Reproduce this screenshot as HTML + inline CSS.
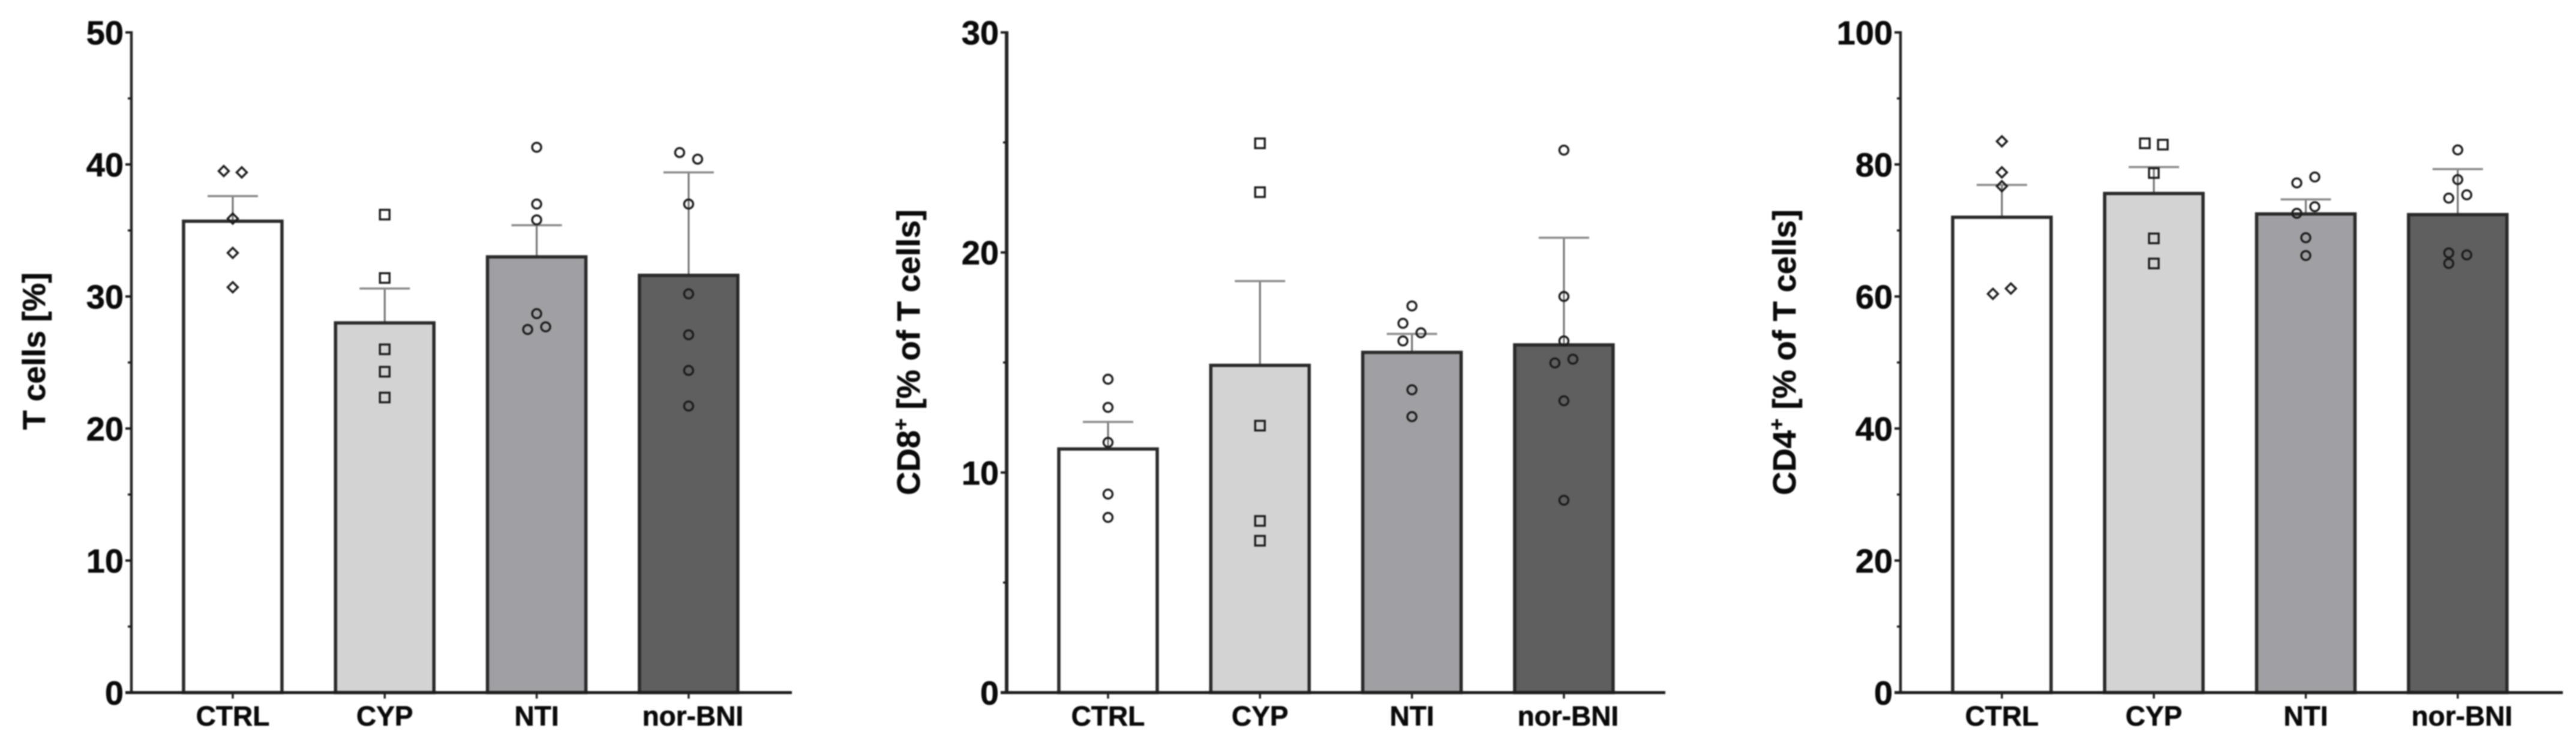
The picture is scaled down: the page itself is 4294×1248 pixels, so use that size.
<!DOCTYPE html>
<html lang="en">
<head>
<meta charset="utf-8">
<title>T cell bar charts</title>
<style>
  html, body { margin: 0; padding: 0; background: #fff; }
  body { width: 4294px; height: 1248px; overflow: hidden; }
  svg { display: block; filter: blur(1px); }
  text { font-family: "Liberation Sans", Arial, sans-serif; font-weight: bold; fill: #0a0a0a; stroke: #0a0a0a; stroke-width: 0.6px; }
</style>
</head>
<body>
<svg id="figure" xmlns="http://www.w3.org/2000/svg" width="4294" height="1248" viewBox="0 0 4294 1248">
  <rect x="0" y="0" width="4294" height="1248" fill="#ffffff"/>
  <g id="panel-t">
    <text transform="translate(75,585) rotate(-90)" text-anchor="middle" font-size="53">T cells [%]</text>
  </g>
  <g id="panel-cd8">
    <text transform="translate(1533,587) rotate(-90)" text-anchor="middle" font-size="54">CD8<tspan font-size="34" dy="-20">+</tspan><tspan dy="20"> [% of T cells]</tspan></text>
  </g>
  <g id="panel-cd4">
    <text transform="translate(2993,587) rotate(-90)" text-anchor="middle" font-size="54">CD4<tspan font-size="34" dy="-20">+</tspan><tspan dy="20"> [% of T cells]</tspan></text>
  </g>
</svg>
<script>
const categories = ['CTRL', 'CYP', 'NTI', 'nor-BNI'];

const tCellTicks = [0, 10, 20, 30, 40, 50];
const tCellMeans = [35.7, 28.0, 33.0, 31.6];
const tCellErrorTops = [37.6, 30.6, 35.4, 39.4];
const tCellPoints = [
  [39.5, 39.4, 35.9, 33.3, 30.7],
  [36.2, 31.4, 26.0, 24.3, 22.35],
  [41.3, 37.0, 35.8, 28.7, 27.7, 27.5],
  [40.9, 40.4, 37.0, 30.2, 27.1, 24.4, 21.7]
];
const tCellJitter = [
  [-1, 1, 0, 0, 0],
  [0, 0, 0, 0, 0],
  [0, 0, 0, 0, 1, -1],
  [-1, 1, 0, 0, 0, 0, 0]
];
const tCellMarkers = ['diamond', 'square', 'circle', 'circle'];

const cd8Ticks = [0, 10, 20, 30];
const cd8Means = [11.07, 14.87, 15.46, 15.8];
const cd8ErrorTops = [12.3, 18.7, 16.3, 20.67];
const cd8Points = [
  [14.24, 12.96, 11.37, 9.02, 7.96],
  [24.96, 22.74, 12.13, 7.8, 6.9],
  [17.57, 16.78, 16.35, 15.98, 13.76, 12.54],
  [24.65, 18.0, 15.98, 15.15, 14.98, 13.26, 8.74]
];
const cd8Jitter = [
  [0, 0, 0, 0, 0],
  [0, 0, 0, 0, 0],
  [0, -1, 1, -1, 0, 0],
  [0, 0, 0, 1, -1, 0, 0]
];
const cd8Markers = ['circle', 'square', 'circle', 'circle'];

const cd4Ticks = [0, 20, 40, 60, 80, 100];
const cd4Means = [72.0, 75.6, 72.5, 72.4];
const cd4ErrorTops = [76.9, 79.6, 74.7, 79.3];
const cd4Points = [
  [83.5, 78.8, 76.7, 61.2, 60.4],
  [83.2, 83.0, 78.7, 68.8, 65.0],
  [78.1, 77.2, 73.6, 72.6, 68.9, 66.2],
  [82.2, 77.7, 75.4, 74.9, 66.3, 66.6, 65.0]
];
const cd4Jitter = [
  [0, 0, 0, 1, -1],
  [-1, 1, 0, 0, 0],
  [1, -1, 1, -1, 0, 0],
  [0, 0, 1, -1, 1, -1, -1]
];
const cd4Markers = ['diamond', 'square', 'circle', 'circle'];

const barFills = ['#ffffff', '#d3d3d3', '#a0a0a4', '#5f5f5f'];

const SVG_NS = 'http://www.w3.org/2000/svg';
const TOP_Y = 54;
const ZERO_Y = 1154;
const FIRST_BAR_OFFSET = 169;
const BAR_STEP = 253.3;
const BAR_HALF = 82;
const CAP_HALF = 42;
const JITTER_PX = 15;

function make(tag, attrs, parent) {
  const el = document.createElementNS(SVG_NS, tag);
  Object.keys(attrs).forEach(function (k) { el.setAttribute(k, attrs[k]); });
  parent.appendChild(el);
  return el;
}

function yScale(value, maxValue) {
  return ZERO_Y - (value / maxValue) * (ZERO_Y - TOP_Y);
}

function xScale(index, axisX) {
  return axisX + FIRST_BAR_OFFSET + index * BAR_STEP;
}

function drawMarker(shape, cx, cy, group) {
  const style = { fill: 'none', stroke: '#1c1c1c', 'stroke-width': 3.4 };
  let el;
  if (shape === 'square') {
    el = make('rect', Object.assign({ x: cx - 8, y: cy - 8, width: 16, height: 16 }, style), group);
  } else if (shape === 'diamond') {
    const d = 8.5;
    el = make('polygon', Object.assign({ points: [cx, cy - d, cx + d, cy, cx, cy + d, cx - d, cy].join(' ') }, style), group);
  } else {
    el = make('circle', Object.assign({ cx: cx, cy: cy, r: 7.5 }, style), group);
  }
  
  
}

function drawPanel(config) {
  const group = document.getElementById(config.id);
  const axisX = config.axisX;
  const maxValue = config.ticks[config.ticks.length - 1];

  config.means.forEach(function (mean, i) {
    const cx = xScale(i, axisX);
    const topY = yScale(mean, maxValue);
    const errY = yScale(config.errorTops[i], maxValue);

    const stem = make('line', { x1: cx, x2: cx, y1: topY, y2: errY, stroke: '#707070', 'stroke-width': 3 }, group);
    
    

    const cap = make('line', { x1: cx - CAP_HALF, x2: cx + CAP_HALF, y1: errY, y2: errY, stroke: '#8a8a8a', 'stroke-width': 3.5 }, group);
    
    

    const bar = make('rect', { x: cx - BAR_HALF, y: topY, width: BAR_HALF * 2, height: ZERO_Y - topY, fill: barFills[i], stroke: '#2a2a2a', 'stroke-width': 5.5 }, group);
    
    

    config.points[i].forEach(function (value, j) {
      drawMarker(config.markers[i], cx + config.jitter[i][j] * JITTER_PX, yScale(value, maxValue), group);
    });

    const tick = make('line', { x1: cx, x2: cx, y1: ZERO_Y, y2: ZERO_Y + 10, stroke: '#222', 'stroke-width': 3.5 }, group);
    
    

    const shift = categories[i].length > 4 ? 7 : 0;
    const label = make('text', { x: cx + shift, y: 1209, 'text-anchor': 'middle', 'font-size': 46 }, group);
    label.textContent = categories[i];
    
    
  });

  const yAxis = make('line', { x1: axisX, x2: axisX, y1: TOP_Y - 2, y2: ZERO_Y + 2, stroke: '#262626', 'stroke-width': config.axisWidth }, group);
  
  

  const xAxis = make('line', { x1: axisX - 10, x2: config.axisEnd, y1: ZERO_Y, y2: ZERO_Y, stroke: '#1e1e1e', 'stroke-width': 5 }, group);
  
  

  config.ticks.forEach(function (value, i) {
    const y = yScale(value, maxValue);
    const tick = make('line', { x1: axisX - 10, x2: axisX, y1: y, y2: y, stroke: '#1e1e1e', 'stroke-width': 4 }, group);
    
    

    const label = make('text', { x: axisX - 13, y: y + 20, 'text-anchor': 'end', 'font-size': 56 }, group);
    label.textContent = String(value);
    
    

    if (i < config.ticks.length - 1) {
      const midY = yScale((value + config.ticks[i + 1]) / 2, maxValue);
      const minor = make('line', { x1: axisX - 6, x2: axisX, y1: midY, y2: midY, stroke: '#1e1e1e', 'stroke-width': 3.5 }, group);
      
      
    }
  });
}

drawPanel({ id: 'panel-t', axisX: 219, axisEnd: 1320, axisWidth: 4.5, ticks: tCellTicks, means: tCellMeans, errorTops: tCellErrorTops, points: tCellPoints, jitter: tCellJitter, markers: tCellMarkers });
drawPanel({ id: 'panel-cd8', axisX: 1678, axisEnd: 2776, axisWidth: 6, ticks: cd8Ticks, means: cd8Means, errorTops: cd8ErrorTops, points: cd8Points, jitter: cd8Jitter, markers: cd8Markers });
drawPanel({ id: 'panel-cd4', axisX: 3168, axisEnd: 4272, axisWidth: 4.5, ticks: cd4Ticks, means: cd4Means, errorTops: cd4ErrorTops, points: cd4Points, jitter: cd4Jitter, markers: cd4Markers });
</script>
</body>
</html>
